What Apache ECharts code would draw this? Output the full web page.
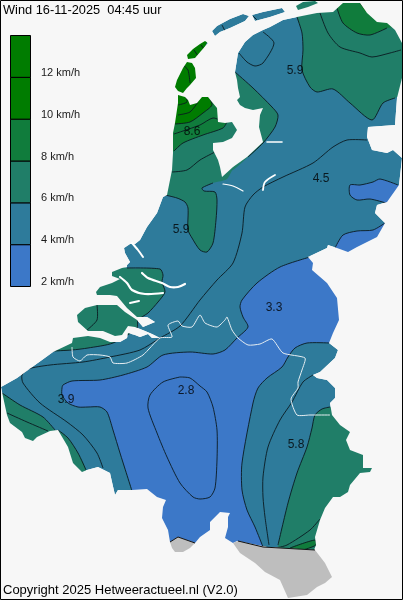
<!DOCTYPE html>
<html><head><meta charset="utf-8">
<style>html,body{margin:0;padding:0;background:#f7f7f7}#c{width:403px;height:600px}</style>
<script src="https://cdn.jsdelivr.net/npm/echarts@6/dist/echarts.min.js"></script>
</head><body><div id="c"></div>
<script>
// Legend
const legendBands = [[2,4],[4,6],[6,8],[8,10],[10,12],[12,14]];
const legendTicks = [2,4,6,8,10,12];
const bandColors = ['#3c78c8','#2e7b9b','#207e68','#107c3c','#007c00','#007c00'];
const seaColor = '#f7f7f7', noDataColor = '#bebebe';
const titleText = 'Wind 16-11-2025  04:45 uur';
const copyrightText = 'Copyright 2025 Hetweeractueel.nl (V2.0)';

// Station values: [x, y, value] in map coordinates
const stationLabels = [[192,132,'8.6'],[295,71,'5.9'],[321,179,'4.5'],[181,230,'5.9'],[274,308,'3.3'],[186,391,'2.8'],[66,400,'3.9'],[296,445,'5.8']];

// Land outlines (map coordinates)
const mainland = [[178,95],[185,97],[188,100],[190,105],[197,103],[202,97],[208,97],[212,102],[217,108],[218,122],[225,123],[232,122],[237,130],[232,138],[223,142],[213,143],[213,150],[218,160],[220,167],[222,177],[233,167],[247,157],[263,142],[259,127],[260,115],[263,108],[253,110],[245,108],[240,105],[237,100],[240,97],[238,88],[237,80],[235,72],[238,53],[245,42],[253,35],[263,30],[270,27],[283,20],[297,17],[317,13],[333,12],[343,3],[360,3],[367,13],[377,22],[387,23],[395,30],[402,43],[402,78],[397,98],[395,125],[368,127],[367,137],[372,150],[387,153],[393,150],[402,158],[399,185],[387,202],[377,205],[375,213],[385,223],[377,237],[357,247],[348,252],[337,248],[328,245],[327,248],[308,257],[313,263],[312,270],[327,283],[337,298],[339,320],[333,333],[329,343],[338,350],[335,358],[320,372],[313,375],[317,378],[327,380],[335,388],[335,398],[330,403],[332,415],[340,425],[350,432],[346,440],[350,450],[363,455],[363,468],[372,468],[370,472],[360,473],[350,485],[348,492],[340,497],[333,497],[325,508],[320,520],[315,537],[316,545],[314,550],[267,547],[237,541],[233,543],[225,538],[228,527],[228,517],[230,513],[220,512],[210,522],[210,530],[200,537],[195,543],[178,537],[170,542],[168,530],[162,518],[163,507],[166,500],[157,497],[147,489],[132,490],[118,490],[115,495],[112,482],[110,473],[98,467],[87,470],[82,472],[73,463],[68,447],[58,430],[50,431],[37,437],[33,441],[25,438],[22,432],[10,423],[7,415],[2,392],[1,387],[17,378],[28,370],[42,360],[53,352],[72,343],[73,338],[88,336],[100,338],[110,342],[120,342],[127,338],[128,333],[135,335],[140,337],[148,334],[152,338],[160,338],[152,334],[145,331],[135,327],[128,326],[122,335],[115,336],[103,331],[88,331],[78,322],[77,315],[85,308],[97,305],[117,305],[125,312],[137,320],[143,327],[155,322],[147,317],[137,317],[127,308],[117,296],[110,295],[97,295],[96,292],[100,287],[112,283],[120,279],[112,276],[112,272],[122,268],[127,267],[127,265],[130,262],[125,253],[124,248],[130,244],[135,244],[140,240],[147,227],[157,213],[163,197],[167,195],[172,170],[173,153],[173,133],[175,123],[178,103]];
const texel = [[175,87],[177,80],[183,68],[187,62],[192,63],[195,68],[196,78],[190,85],[187,88],[183,93],[178,91]];
const vlieland = [[187,55],[193,49],[200,44],[205,41],[208,43],[201,51],[195,58],[188,59]];
const terschelling = [[212,31],[217,26],[230,19],[243,14],[249,16],[245,21],[230,28],[220,32],[215,36]];
const ameland = [[252,15],[263,12],[282,8],[285,12],[270,17],[255,21]];
const schiermonnikoog = [[296,6],[303,2],[315,1],[318,3],[308,7],[298,10]];
const luxembourg = [[233,543],[240,553],[255,563],[265,572],[280,580],[288,598],[307,595],[317,587],[325,583],[332,577],[325,563],[315,550],[267,547],[238,541]];
const ardennesTip = [[170,542],[178,537],[195,543],[190,548],[183,552],[175,552],[172,548]];

// Contours
const cBlueWest = [[132,491],[120,453],[113,430],[107,412],[100,407],[88,407],[78,407],[68,403],[62,395],[62,388],[63,385],[72,381],[100,380],[123,375],[147,367],[163,355],[190,352],[213,354],[225,350],[237,338],[248,327],[243,317],[240,307],[242,300],[257,283],[280,267],[310,257]];
const cBlueEast = [[329,343],[307,343],[295,348],[288,357],[282,367],[267,378],[258,388],[253,403],[242,463],[242,490],[247,510],[255,527],[263,547]];
const cTwente = [[386,203],[370,199],[357,200],[350,195],[350,185],[360,185],[373,182],[380,179],[398,185]];
const cAchterhoek = [[335,248],[343,235],[357,231],[373,230],[385,223]];
const cGroningen = [[297,17],[302,33],[303,50],[302,70],[310,87],[317,92],[333,89],[350,103],[372,120],[383,103],[395,98]];
const cGroningenInner = [[337,8],[343,23],[357,33],[370,35],[387,28]];
const cGroningenTip = [[360,3],[367,12]];
const cGroningenMid = [[320,13],[328,33],[340,47],[360,53],[372,57],[390,53],[401,50]];
const cFriesland = [[235,72],[253,88],[272,107],[278,115],[275,127],[263,143],[248,157]];
const cFrieslandLobe = [[239,53],[247,62],[255,66],[263,63],[274,43],[263,32]];
const cHollandLobe = [[165,195],[177,198],[185,202],[188,208],[188,230],[192,238],[200,250],[207,252],[213,243],[216,220],[217,200],[215,192],[204,191],[202,188],[213,183]];
const cHollandDark = [[175,124],[190,122],[203,113],[212,105],[209,97]];
const cHollandMid = [[174,151],[183,143],[203,135],[223,128],[227,122]];
const cHollandA = [[174,134],[183,131],[200,125],[213,118],[224,122]];
const cHollandB = [[172,172],[187,170],[200,160],[215,152]];
const cHollandC = [[178,115],[190,112],[198,102]];
const cHollandD = [[178,105],[187,102],[185,95]];
const cTexel = [[183,65],[188,70],[190,83]];
const cZeeland = [[127,268],[160,269],[163,275],[162,282],[165,292],[158,302],[148,313],[138,320],[137,328],[113,343],[88,348],[72,350],[53,351]];
const cWalcheren = [[97,305],[97,320],[87,330]];
const cLong = [[103,468],[97,453],[83,435],[67,422],[40,403],[23,383],[22,375],[28,369],[50,365],[83,362],[110,357],[140,350],[160,338],[180,326],[200,300],[217,280],[233,263],[242,233],[245,207],[253,195],[263,187],[283,177],[313,163],[333,147],[347,140],[367,140]];
const cFlanders = [[2,393],[20,405],[43,417],[55,430]];
const cFlandersLobe = [[58,430],[68,438],[78,453],[86,470]];
const cFlandersInner = [[7,413],[27,422],[48,431]];
const cInner = [[180,377],[163,382],[150,395],[148,408],[157,433],[167,457],[180,483],[193,497],[200,499],[210,497],[215,488],[217,460],[217,430],[213,407],[207,392],[200,386],[190,378],[180,377]];
const cLimburg = [[313,375],[303,382],[292,402],[280,420],[268,447],[263,477],[263,497],[265,517],[269,545]];
const cEastGreen = [[330,407],[322,409],[315,415],[312,428],[307,447],[297,473],[288,503],[278,545]];
const cEastInner = [[276,548],[287,545],[310,530],[320,519]];
const cEastDark = [[290,548],[315,540],[316,545],[303,550]];
const cBorderSouth = [[238,541],[263,547],[315,550]];
const cTipTop = [[170,542],[178,537],[195,543]];
const cShort1 = [[222,25],[225,31]];
const cShort2 = [[253,16],[257,20]];
const cShort3 = [[194,50],[198,56]];
const cShort4 = [[201,45],[204,49]];

// Rivers and borders
const waterways = [
  [[[132,243],[138,250],[143,257]],2],
  [[[142,273],[148,278],[162,283],[170,287],[178,287],[185,284]],2.2],
  [[[120,277],[127,283],[132,290],[145,294],[163,293]],2.2],
  [[[130,303],[139,301]],2],
  [[[267,142],[282,142]],1.6],
  [[[223,184],[233,186],[243,191]],1.2],
  [[[263,190],[265,182],[275,175]],1.8]
];
const borderLine = [[72,347],[73,357],[80,361],[87,355],[100,355],[110,357],[113,363],[127,363],[143,355],[160,338],[172,337],[168,325],[178,321],[182,326],[192,327],[200,315],[205,323],[217,327],[225,320],[227,317],[232,330],[238,338],[248,345],[260,344],[272,339],[283,353],[305,358],[302,370],[298,382],[298,388],[291,399],[297,415],[310,415],[330,415]];

const fills = [
  [cBlueWest.concat([[320,255],[345,300],[345,345]],cBlueEast,[[263,556],[160,556],[128,500]]),0],
  [cTwente.concat([[405,190],[395,210]]),0],
  [cAchterhoek.concat([[395,225],[395,262],[335,262]]),0],
  [cGroningen.concat([[410,90],[410,-5],[297,-5]]),2],
  [cGroningenInner.concat([[400,25],[400,-5],[337,-5]]),3],
  [cGroningenTip.concat([[375,-5],[360,-5]]),4],
  [cFriesland.concat([[230,170],[226,60]]),2],
  [cHollandLobe.concat([[228,178],[245,130],[215,85],[165,85],[155,195]]),2],
  [cHollandMid.concat([[235,118],[215,90],[165,90],[165,155]]),3],
  [cHollandDark.concat([[214,90],[200,60],[208,36],[165,36],[165,124]]),4],
  [cZeeland.concat([[45,345],[80,290],[110,262]]),2],
  [cFlanders.concat(cFlandersLobe,[[82,482],[0,452],[-4,395]]),2],
  [cEastGreen.concat([[278,556],[345,556],[385,480],[350,400]]),2],
  [cEastDark,3]
];
const contours = [cBlueWest,cBlueEast,cTwente,cAchterhoek,cGroningen,cGroningenInner,cGroningenTip,cGroningenMid,cFriesland,cFrieslandLobe,cHollandLobe,cHollandDark,cHollandMid,cHollandA,cHollandB,cHollandC,cHollandD,cTexel,cZeeland,cWalcheren,cLong,cFlanders,cFlandersLobe,cFlandersInner,cInner,cLimburg,cEastGreen,cEastInner,cEastDark,cShort1,cShort2,cShort3,cShort4];
const landOutlines = [mainland,texel,vlieland,terschelling,ameland,schiermonnikoog];

const FONT = '"Liberation Sans", Arial, sans-serif';
function area(p){let a=0;for(let i=0;i<p.length;i++){const q=p[(i+1)%p.length];a+=p[i][0]*q[1]-q[0]*p[i][1];}return a;}

function renderMap(params, api){
  const pt = p => api.coord(p);
  const kids = [];
  landOutlines.forEach(o=>kids.push({type:'polygon',shape:{points:o.map(pt)},style:{fill:bandColors[1]}}));
  fills.forEach(f=>kids.push({type:'polygon',shape:{points:f[0].map(pt),smooth:0.25},style:{fill:bandColors[f[1]]}}));
  contours.forEach(c=>kids.push({type:'polyline',shape:{points:c.map(pt),smooth:0.25},style:{fill:null,stroke:'#0a1a20',lineWidth:0.9}}));
  const tl=pt([0,0]),br=pt([403,600]);
  let d='M'+tl[0]+' '+tl[1]+'L'+br[0]+' '+tl[1]+'L'+br[0]+' '+br[1]+'L'+tl[0]+' '+br[1]+'Z';
  landOutlines.forEach(o=>{
    const r = area(o)>0 ? o.slice().reverse() : o;
    d+='M'+r.map(p=>{const q=pt(p);return q[0]+' '+q[1];}).join('L')+'Z';
  });
  kids.push({type:'path',shape:{pathData:d,layout:'cover',x:tl[0],y:tl[1],width:br[0]-tl[0],height:br[1]-tl[1]},style:{fill:seaColor}});
  [luxembourg,ardennesTip].forEach(o=>kids.push({type:'polygon',shape:{points:o.map(pt)},style:{fill:noDataColor}}));
  [cBorderSouth,cTipTop].forEach(c=>kids.push({type:'polyline',shape:{points:c.map(pt)},style:{fill:null,stroke:'#111',lineWidth:1}}));
  waterways.forEach(w=>kids.push({type:'polyline',shape:{points:w[0].map(pt),smooth:0.3},style:{fill:null,stroke:'#ffffff',lineWidth:w[1],lineCap:'round'}}));
  kids.push({type:'polyline',shape:{points:borderLine.map(pt),smooth:0.2},style:{fill:null,stroke:'#e6eef2',lineWidth:1}});
  return {type:'group',children:kids};
}

const chart = echarts.init(document.getElementById('c'),null,{renderer:'canvas',width:403,height:600});
chart.setOption({
  animation:false,
  backgroundColor:seaColor,
  textStyle:{fontFamily:FONT},
  title:[
    {text:titleText,left:3,top:4,padding:0,textStyle:{fontSize:12.8,fontWeight:'normal',color:'#000',fontFamily:FONT}},
    {text:copyrightText,left:3,top:584,padding:0,textStyle:{fontSize:13,fontWeight:'normal',color:'#000',fontFamily:FONT}}
  ],
  grid:[
    {left:0,top:0,width:403,height:600},
    {left:10.5,top:35.5,width:20,height:251}
  ],
  xAxis:[
    {gridIndex:0,type:'value',min:0,max:403,show:false},
    {gridIndex:1,type:'value',min:0,max:1,show:false}
  ],
  yAxis:[
    {gridIndex:0,type:'value',min:0,max:600,inverse:true,show:false},
    {gridIndex:1,type:'value',min:2,max:14,interval:2,position:'right',z:10,
     axisLine:{show:false},axisTick:{show:false},splitLine:{show:false},
     axisLabel:{show:true,margin:10.5,fontSize:11,color:'#1a1a1a',fontFamily:FONT,verticalAlign:'bottom',lineHeight:9,
       formatter:v=>legendTicks.includes(v)?v+' km/h':''}}
  ],
  series:[
    {type:'custom',xAxisIndex:0,yAxisIndex:0,clip:false,silent:true,z:1,data:[[0,0]],renderItem:renderMap,
     encode:{x:0,y:1}},
    {type:'scatter',xAxisIndex:0,yAxisIndex:0,z:3,silent:true,symbolSize:0,data:stationLabels.map(s=>({value:[s[0],s[1]],name:s[2]})),
     label:{show:true,position:'inside',formatter:p=>p.name,fontSize:12,color:'#000',fontFamily:FONT}},
    {type:'custom',xAxisIndex:1,yAxisIndex:1,z:4,silent:true,clip:false,
     data:legendBands.map((b,i)=>[0,b[0],b[1],i]),encode:{x:0,y:[1,2]},
     renderItem:(p,api)=>{
       const a=api.coord([0,api.value(1)]),b=api.coord([1,api.value(2)]);
       return {type:'rect',shape:{x:a[0],y:b[1],width:b[0]-a[0],height:a[1]-b[1]},
         style:{fill:bandColors[api.value(3)],stroke:'#000',lineWidth:1}};
     }}
  ],
  graphic:[{type:'rect',z:100,silent:true,shape:{x:0.5,y:0.5,width:402,height:599},style:{fill:null,stroke:'#000',lineWidth:1}}]
});
</script></body></html>
